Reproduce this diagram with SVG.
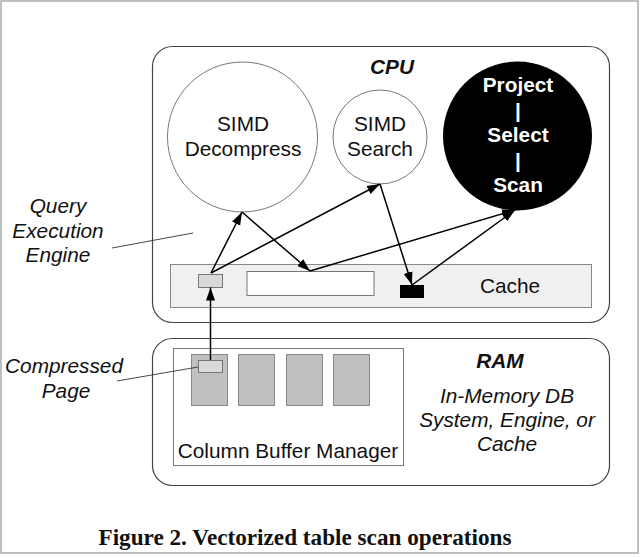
<svg xmlns="http://www.w3.org/2000/svg" width="642" height="558" viewBox="0 0 642 558">
<defs>
<marker id="ah" markerUnits="userSpaceOnUse" markerWidth="14" markerHeight="10" viewBox="0 0 14 10" refX="13" refY="5" orient="auto">
<path d="M0,0.5 L13,5 L0,9.5 Z" fill="#000"/>
</marker>
<style>
.sans{font-family:"Liberation Sans",Arial,sans-serif;font-size:20.8px;fill:#111;text-anchor:middle}
.it{font-style:italic}
.bi{font-style:italic;font-weight:bold}
.wb{font-weight:bold;fill:#fff}
.box{fill:#fff;stroke:#444;stroke-width:1.2}
.circ{fill:#fff;stroke:#777;stroke-width:1}
.page{fill:#c0c0c0;stroke:#888;stroke-width:1}
.chip{fill:#d9d9d9;stroke:#777;stroke-width:1}
.arrow{stroke:#000;stroke-width:1.5;fill:none;marker-end:url(#ah)}
.leader{stroke:#333;stroke-width:0.9;fill:none}
</style>
</defs>
<rect x="1" y="1" width="637" height="552" fill="#fff" stroke="#aaa" stroke-width="1.5"/>

<g id="cpu">
<rect class="box" x="152.5" y="46.5" width="457" height="276" rx="20"/>
<text class="sans bi" x="392" y="74">CPU</text>
</g>

<g id="simd-decompress">
<circle class="circ" cx="242.5" cy="137" r="75"/>
<text class="sans" x="243" y="131">SIMD</text>
<text class="sans" x="243" y="156">Decompress</text>
</g>

<g id="simd-search">
<circle class="circ" cx="380" cy="137" r="47"/>
<text class="sans" x="380" y="131">SIMD</text>
<text class="sans" x="380" y="156">Search</text>
</g>

<g id="project-select-scan">
<circle cx="517.5" cy="136" r="74.5" fill="#000"/>
<text class="sans wb" x="518" y="92">Project</text>
<text class="sans wb" x="518" y="118">|</text>
<text class="sans wb" x="518" y="142">Select</text>
<text class="sans wb" x="518" y="168">|</text>
<text class="sans wb" x="518" y="192">Scan</text>
</g>

<g id="cache">
<rect x="170.5" y="264.5" width="421" height="43" fill="#f0f0f0" stroke="#888" stroke-width="1"/>
<rect class="chip" x="198.5" y="274.5" width="24" height="13"/>
<rect x="247" y="271.5" width="127" height="24" fill="#fff" stroke="#777" stroke-width="1"/>
<rect x="400" y="285" width="24" height="13" fill="#000"/>
<text class="sans" x="510" y="293">Cache</text>
</g>

<g id="ram">
<rect class="box" x="152.5" y="338.5" width="457" height="147" rx="20"/>
<text class="sans bi" x="500" y="368">RAM</text>
<text class="sans it" x="507" y="403">In-Memory DB</text>
<text class="sans it" x="507" y="427">System, Engine, or</text>
<text class="sans it" x="507" y="451">Cache</text>
</g>

<g id="column-buffer-manager">
<rect x="173.5" y="348.5" width="230" height="117" fill="#fff" stroke="#777" stroke-width="1"/>
<rect class="page" x="191.5" y="354.5" width="36" height="51"/>
<rect class="page" x="238.5" y="354.5" width="36" height="51"/>
<rect class="page" x="286.5" y="354.5" width="36" height="51"/>
<rect class="page" x="333.5" y="354.5" width="36" height="51"/>
<rect class="chip" x="198.5" y="360.5" width="24" height="12"/>
<text class="sans" x="288" y="458">Column Buffer Manager</text>
</g>

<g id="query-execution-engine-label">
<text class="sans it" x="58" y="213">Query</text>
<text class="sans it" x="58" y="238">Execution</text>
<text class="sans it" x="58" y="262">Engine</text>
</g>

<g id="compressed-page-label">
<text class="sans it" x="64" y="373">Compressed</text>
<text class="sans it" x="66" y="398">Page</text>
</g>

<g id="connectors">
<line class="leader" x1="112" y1="248" x2="193" y2="233"/>
<line class="leader" x1="117" y1="381" x2="198" y2="367"/>
<line class="arrow" x1="211" y1="273" x2="242" y2="212"/>
<line class="arrow" x1="211" y1="273" x2="380" y2="184"/>
<line class="arrow" x1="242" y1="212" x2="310" y2="271"/>
<line class="arrow" x1="310" y1="271" x2="515" y2="210"/>
<line class="arrow" x1="380" y1="184" x2="412" y2="285"/>
<line class="arrow" x1="412" y1="285" x2="515" y2="210"/>
<line class="arrow" x1="210.5" y1="360" x2="210.5" y2="287.5"/>
</g>

<text x="305" y="545" font-family="'Liberation Serif','Times New Roman',serif" font-weight="bold" font-size="23.2" fill="#111" text-anchor="middle">Figure 2. Vectorized table scan operations</text>
</svg>
